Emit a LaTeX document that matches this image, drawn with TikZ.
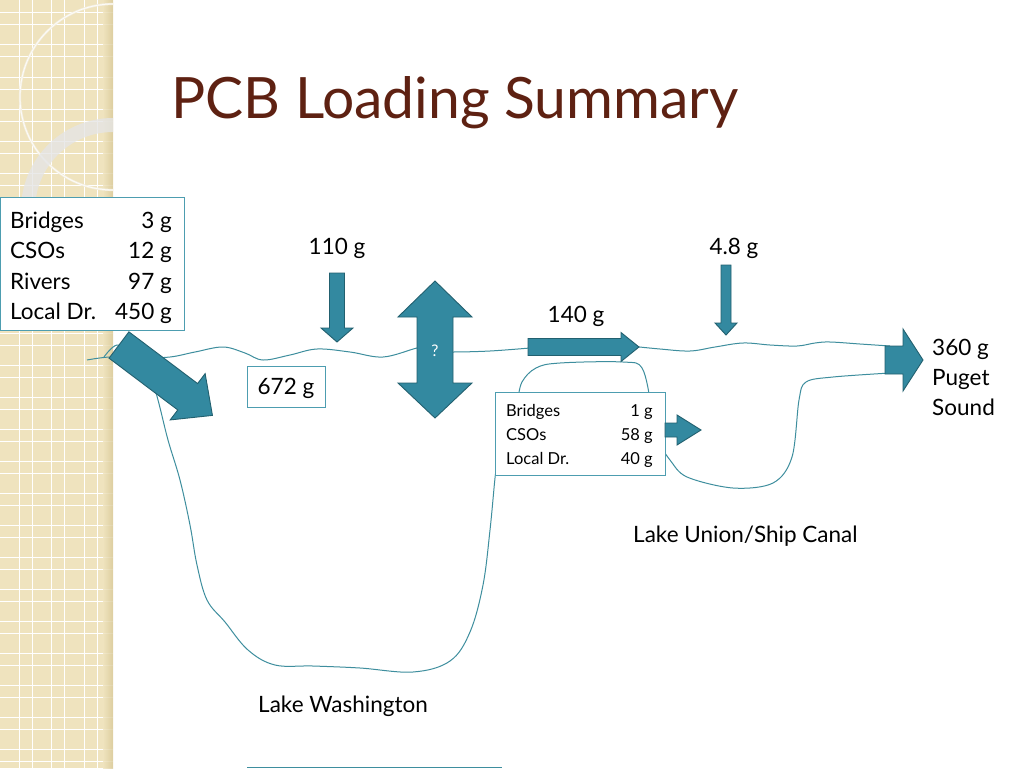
\documentclass[tikz,border=0pt]{standalone}
\usepackage{fontspec}
\setmainfont{Lato}
\usetikzlibrary{calc}
\definecolor{stripc}{HTML}{EFE3BE}
\definecolor{stripd}{HTML}{D9C998}
\definecolor{teal}{HTML}{3E8E9E}
\definecolor{boxc}{HTML}{4D9DB0}
\definecolor{arrf}{HTML}{3389A0}
\definecolor{arrd}{HTML}{22606F}
\definecolor{titlec}{HTML}{5E2112}
\tikzset{
  shore/.style={draw=teal, line width=1pt},
  valbox/.style={draw=boxc, line width=1pt, fill=white},
  blk/.style={fill=arrf, draw=arrd, line width=0.9pt, line join=miter},
  lbl/.style={font=\fontsize{22.5}{26}\selectfont, inner sep=0pt},
  slbl/.style={font=\fontsize{16.5}{19}\selectfont, inner sep=0pt},
}
% #1 x, #2 y (tail centre), #3 angle, #4 length, #5 body half, #6 head half, #7 head length
\newcommand{\blockarrow}[7]{%
  \begin{scope}[shift={(#1,#2)},rotate=#3]
    \draw[blk] (0,{-#5}) -- ({#4-#7},{-#5}) -- ({#4-#7},{-#6}) -- (#4,0)
      -- ({#4-#7},#6) -- ({#4-#7},#5) -- (0,#5) -- cycle;
  \end{scope}}
\begin{document}
\begin{tikzpicture}[x=1pt,y=-1pt]
\useasboundingbox (0,0) rectangle (1024,768);
\fill[white] (0,0) rectangle (1024,768);
% left decorative strip
\begin{scope}
  \clip (0,0) rectangle (113,768);
  \fill[stripc] (0,0) rectangle (113,768);
  \foreach \k in {0,...,3} {
    \draw[white, line width=1pt] ({19+32.5*\k},0) -- ({19+32.5*\k},768);
    \draw[white, line width=1pt] ({32+32.5*\k},0) -- ({32+32.5*\k},768);
  }
  \foreach \k in {-1,...,24} {
    \draw[white, line width=1pt] (0,{13+32*\k}) -- (113,{13+32*\k});
    \draw[white, line width=1pt] (0,{25+32*\k}) -- (113,{25+32*\k});
  }
  \shade[left color=stripc, right color=stripd, opacity=0.8] (103,0) rectangle (113,768);
  \draw[white!70!stripd, line width=2.2pt] (113,97) circle (93);
  \draw[white!90!stripc, line width=0.8pt] (113,97) circle (93);
  \draw[gray!20!white, line width=14pt, opacity=0.8] (113,210) circle (85);
\end{scope}
% title
\node[anchor=base west, inner sep=0pt, text=titlec, font=\fontsize{57}{62}\selectfont] (title) at (171,118) {PCB Loading Summary};
% shores and water surfaces
\draw[shore] plot[smooth, tension=0.6] coordinates {(87,360) (110,357) (140,358) (170,357) (195,352) (223,347) (245,353) (263,360) (290,355) (317,349) (350,352) (383,357) (417,348) (430,347)};
\draw[shore] plot[smooth, tension=0.6] coordinates {(440,351) (453,352) (490,351) (530,348)};
\draw[shore] plot[smooth, tension=0.6] coordinates {(630,346) (660,349) (690,351) (715,347) (743,343) (770,345) (797,346) (815,343) (830,342) (860,344) (890,346)};
\draw[shore] plot[smooth, tension=0.6] coordinates {(104,357) (117,345) (135,352) (150,375) (158,400) (168,440) (180,480) (190,525) (197,565) (207,600) (225,622) (248,650) (275,665) (313,666) (360,668) (413,672) (450,661) (470,632) (483,585) (490,530) (495,478) (497,465)};
\draw[shore] plot[smooth, tension=0.6] coordinates {(518,400) (522,382) (536,368) (560,363) (623,362) (642,368) (650,400)};
\draw[shore] plot[smooth, tension=0.55] coordinates {(660,445) (670,460) (687,477) (733,488) (773,483) (792,457) (799,400) (806,382) (833,377) (890,373)};
\draw[shore] (247,767) -- (502,767);
% value boxes
\node[valbox, anchor=north west, minimum width=184pt, minimum height=133pt] (src) at (0,197) {};
\node[lbl, anchor=base west] (b1) at (10,228) {Bridges};
\node[lbl, anchor=base west] (c1) at (10,258) {CSOs};
\node[lbl, anchor=base west] (r1) at (10,289) {Rivers};
\node[lbl, anchor=base west] (l1) at (10,319) {Local Dr.};
\node[lbl, anchor=base east] (b1v) at (172,228) {3 g};
\node[lbl, anchor=base east] (c1v) at (172,258) {12 g};
\node[lbl, anchor=base east] (r1v) at (172,289) {97 g};
\node[lbl, anchor=base east] (l1v) at (172,319) {450 g};

\node[valbox, anchor=north west, minimum width=78pt, minimum height=41pt] (lw) at (247,366) {};
\node[lbl] (lwv) at (286,388) {672 g};

\node[valbox, anchor=north west, minimum width=170pt, minimum height=83pt] (lu) at (495,392) {};
\node[slbl, anchor=base west] (b3) at (506,416) {Bridges};
\node[slbl, anchor=base west] (c3) at (506,440) {CSOs};
\node[slbl, anchor=base west] (l3) at (506,464) {Local Dr.};
\node[slbl, anchor=base east] (b3v) at (653,416) {1 g};
\node[slbl, anchor=base east] (c3v) at (653,440) {58 g};
\node[slbl, anchor=base east] (l3v) at (653,464) {40 g};
% block arrows
\blockarrow{119}{345}{-37}{117}{16.5}{29}{31}
\blockarrow{337}{273}{-90}{69}{7.5}{16}{14}
\blockarrow{726}{265}{-90}{70}{5}{11}{12}
\blockarrow{528}{347}{0}{111}{8.5}{14.5}{18}
\blockarrow{665}{430}{0}{36}{7}{15}{24}
\blockarrow{885}{360}{0}{38}{14}{31}{20}
% double arrow
\draw[blk] (417,317) -- (398,317) -- (435,281) -- (472,317) -- (453,317) -- (453,383) -- (472,383) -- (435,418) -- (398,383) -- (417,383) -- cycle;
\node[text=white, font=\fontsize{16}{18}\selectfont, inner sep=0pt] (q) at (435,351) {?};
% flow labels
\node[lbl, anchor=base] (f110) at (337,254) {110 g};
\node[lbl, anchor=base] (f48) at (734,254) {4.8 g};
\node[lbl, anchor=base] (f140) at (576,322) {140 g};
\node[lbl, anchor=base west] (ps1) at (932,355) {360 g};
\node[lbl, anchor=base west] (ps2) at (932,385) {Puget};
\node[lbl, anchor=base west] (ps3) at (932,415) {Sound};
\node[lbl, anchor=base west] (luname) at (633,542) {Lake Union/Ship Canal};
\node[lbl, anchor=base west] (lwname) at (258,712) {Lake Washington};
\end{tikzpicture}
\end{document}
